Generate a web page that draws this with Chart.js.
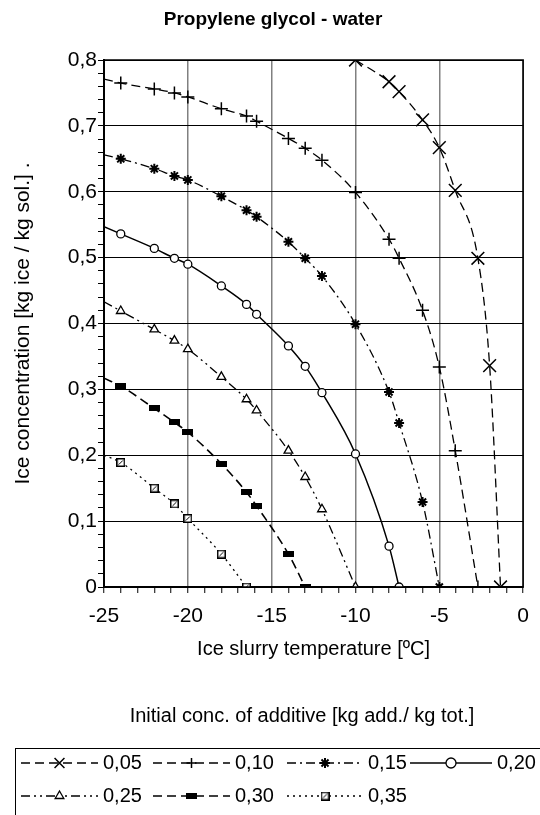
<!DOCTYPE html>
<html>
<head>
<meta charset="utf-8">
<script src="https://cdn.jsdelivr.net/npm/chart.js@4.4.1/dist/chart.umd.min.js"></script>
<style>
  html, body { margin: 0; padding: 0; background: #fff; }
  #wrap { width: 540px; height: 815px; }
</style>
</head>
<body>
<div id="wrap"><canvas id="chart" width="540" height="815"></canvas></div>
<script>
// legend labels (initial additive concentration)
const labels = ['0,05', '0,10', '0,15', '0,20', '0,25', '0,30', '0,35'];

// temperature [ºC] and ice concentration
// first point at -25 (where present) is just where the curve enters the plot, no marker
const temp05 = [-10.0, -8.0, -7.4, -6.0, -5.0, -4.05, -2.7, -2.0, -1.35];
const conc05 = [0.800, 0.767, 0.752, 0.709, 0.667, 0.602, 0.499, 0.336, 0.0];

const temp10 = [-25, -24.0, -22.0, -20.8, -20.0, -18.0, -16.5, -15.9, -14.0, -13.0, -12.0, -10.0, -8.0, -7.4, -6.0, -5.0, -4.05, -2.7];
const conc10 = [0.771, 0.765, 0.756, 0.750, 0.744, 0.726, 0.715, 0.707, 0.681, 0.666, 0.648, 0.599, 0.528, 0.499, 0.420, 0.334, 0.207, 0.0];

const temp15 = [-25, -24.0, -22.0, -20.8, -20.0, -18.0, -16.5, -15.9, -14.0, -13.0, -12.0, -10.0, -8.0, -7.4, -6.0, -5.0];
const conc15 = [0.656, 0.650, 0.635, 0.624, 0.618, 0.593, 0.572, 0.562, 0.524, 0.499, 0.472, 0.399, 0.296, 0.249, 0.129, 0.0];

const temp20 = [-25, -24.0, -22.0, -20.8, -20.0, -18.0, -16.5, -15.9, -14.0, -13.0, -12.0, -10.0, -8.0, -7.4];
const conc20 = [0.547, 0.536, 0.514, 0.499, 0.490, 0.457, 0.429, 0.414, 0.366, 0.335, 0.295, 0.202, 0.062, 0.0];

const temp25 = [-25, -24.0, -22.0, -20.8, -20.0, -18.0, -16.5, -15.9, -14.0, -13.0, -12.0, -10.0];
const conc25 = [0.433, 0.419, 0.391, 0.374, 0.361, 0.319, 0.285, 0.268, 0.207, 0.167, 0.118, 0.0];

const temp30 = [-25, -24.0, -22.0, -20.8, -20.0, -18.0, -16.5, -15.9, -14.0, -13.0];
const conc30 = [0.317, 0.305, 0.271, 0.250, 0.235, 0.187, 0.144, 0.123, 0.050, 0.0];

const temp35 = [-25, -24.0, -22.0, -20.8, -20.0, -18.0, -16.5];
const conc35 = [0.200, 0.189, 0.150, 0.126, 0.104, 0.050, 0.0];

const xMin = -25, xMax = 0, yMin = 0, yMax = 0.8;

const FONT = '"Liberation Sans", Arial, sans-serif';

// custom markers
function barMarker() {
  const c = document.createElement('canvas');
  c.width = 11; c.height = 6;
  const g = c.getContext('2d');
  g.fillStyle = '#000';
  g.fillRect(0, 0, 11, 6);
  return c;
}
function boxMarker() {
  const c = document.createElement('canvas');
  c.width = 9; c.height = 9;
  const g = c.getContext('2d');
  g.fillStyle = '#fff';
  g.fillRect(0, 0, 9, 9);
  g.strokeStyle = '#000';
  g.lineWidth = 1.5;
  g.strokeRect(0.75, 0.75, 7.5, 7.5);
  g.lineWidth = 1;
  g.beginPath(); g.moveTo(2.5, 6.5); g.lineTo(6.5, 2.5); g.stroke();
  return c;
}

function pts(t, c) {
  return t.map((v, i) => ({ x: v, y: c[i] }));
}

function line(label, t, c, dash, style, r, extra) {
  return Object.assign({
    label: label,
    data: pts(t, c),
    showLine: true,
    borderColor: '#000',
    backgroundColor: '#fff',
    borderWidth: 1.3,
    borderDash: dash,
    cubicInterpolationMode: 'monotone',
    pointStyle: style,
    pointRadius: ctx => (ctx.raw && ctx.raw.x <= xMin) ? 0 : r,
    pointBorderColor: '#000',
    pointBackgroundColor: '#fff',
    pointBorderWidth: 1.3,
    pointHoverRadius: 0
  }, extra || {});
}

const datasets = [
  line(labels[0], temp05, conc05, [9, 5], 'crossRot', 9, { pointBorderWidth: 1.5 }),
  line(labels[1], temp10, conc10, [9, 5], 'cross', 6.5, { pointBorderWidth: 1.5 }),
  line(labels[2], temp15, conc15, [9, 4, 2, 4], 'star', 5, { pointBorderWidth: 2 }),
  line(labels[3], temp20, conc20, [], 'circle', 4, { borderWidth: 1.5 }),
  line(labels[4], temp25, conc25, [9, 4, 2, 4, 2, 4], 'triangle', 5, {}),
  line(labels[5], temp30, conc30, [9, 5], barMarker(), 5, { borderWidth: 1.6 }),
  line(labels[6], temp35, conc35, [2, 4], boxMarker(), 5, {})
];

function isMajorY(v) {
  return Math.abs(v * 10 - Math.round(v * 10)) < 1e-6;
}

// title, box round the plot, legend
const decor = {
  id: 'decor',
  afterDraw(chart) {
    const ctx = chart.ctx;
    const a = chart.chartArea;
    ctx.save();
    ctx.setLineDash([]);
    ctx.strokeStyle = '#000';
    ctx.lineWidth = 1.5;
    ctx.strokeRect(a.left, a.top, a.right - a.left, a.bottom - a.top);

    ctx.fillStyle = '#000';
    ctx.textAlign = 'center';
    ctx.textBaseline = 'middle';
    ctx.font = 'bold 19px ' + FONT;
    ctx.fillText('Propylene glycol - water', 273, 20);

    ctx.font = '20px ' + FONT;
    ctx.fillText('Initial conc. of additive [kg add./ kg tot.]', 302, 716);

    ctx.lineWidth = 1;
    ctx.strokeRect(15.5, 748.5, 600, 100);

    const colStart = [21, 153, 287, 410];
    const colText = [103, 235, 368, 497];
    const rowY = [763, 796];
    const dp = Chart.helpers && Chart.helpers.drawPoint;
    chart.data.datasets.forEach((ds, i) => {
      const row = i < 4 ? 0 : 1;
      const col = i < 4 ? i : i - 4;
      const y = rowY[row];
      const x0 = colStart[col], x1 = colText[col] - 5;
      ctx.strokeStyle = '#000';
      ctx.lineWidth = ds.borderWidth;
      ctx.setLineDash(ds.borderDash);
      ctx.beginPath();
      ctx.moveTo(x0, y);
      ctx.lineTo(x1, y);
      ctx.stroke();
      ctx.setLineDash([]);
      if (dp) {
        ctx.fillStyle = '#fff';
        ctx.lineWidth = ds.pointBorderWidth;
        const r = typeof ds.pointStyle === 'string' ? 5 : 0;
        dp(ctx, { pointStyle: ds.pointStyle, radius: ds.pointStyle === 'crossRot' ? 7 : r, borderWidth: ds.pointBorderWidth, rotation: 0 }, (x0 + x1) / 2, y);
      }
      ctx.fillStyle = '#000';
      ctx.textAlign = 'left';
      ctx.font = '20px ' + FONT;
      ctx.fillText(ds.label, colText[col], y);
    });
    ctx.restore();
  }
};

new Chart(document.getElementById('chart'), {
  type: 'scatter',
  data: { datasets: datasets },
  plugins: [decor],
  options: {
    responsive: false,
    animation: false,
    devicePixelRatio: 1,
    layout: { padding: { top: 60, left: 0, right: 16, bottom: 148 } },
    plugins: {
      legend: { display: false },
      title: { display: false },
      tooltip: { enabled: false }
    },
    scales: {
      x: {
        type: 'linear',
        min: xMin,
        max: xMax,
        afterFit: s => { s.height = 80; },
        ticks: {
          stepSize: 1,
          autoSkip: false,
          maxRotation: 0,
          padding: 11,
          color: '#000',
          font: { family: FONT, size: 21 },
          callback: v => (v % 5 === 0 ? String(v) : '')
        },
        grid: {
          color: c => (c.tick && c.tick.value % 5 === 0) ? '#808080' : 'rgba(0,0,0,0)',
          lineWidth: 1.5,
          tickColor: '#000',
          tickLength: 6,
          tickWidth: 1
        },
        border: { color: '#000', width: 2 },
        title: {
          display: true,
          text: 'Ice slurry temperature [ºC]',
          color: '#000',
          font: { family: FONT, size: 20 },
          padding: { top: 0, bottom: 6 }
        }
      },
      y: {
        type: 'linear',
        min: yMin,
        max: yMax,
        afterFit: s => { s.width = 104; },
        ticks: {
          stepSize: 0.02,
          autoSkip: false,
          padding: 1,
          color: '#000',
          font: { family: FONT, size: 21 },
          callback: v => (isMajorY(v) ? String(Math.round(v * 10) / 10).replace('.', ',') : '')
        },
        grid: {
          color: c => (c.tick && isMajorY(c.tick.value)) ? '#000' : 'rgba(0,0,0,0)',
          lineWidth: 1,
          tickColor: '#000',
          tickLength: 6,
          tickWidth: 1
        },
        border: { color: '#000', width: 2 },
        title: {
          display: true,
          text: 'Ice concentration [kg ice / kg sol.] .',
          color: '#000',
          font: { family: FONT, size: 21 },
          padding: { top: 11, bottom: 0 }
        }
      }
    }
  }
});
</script>
</body>
</html>
